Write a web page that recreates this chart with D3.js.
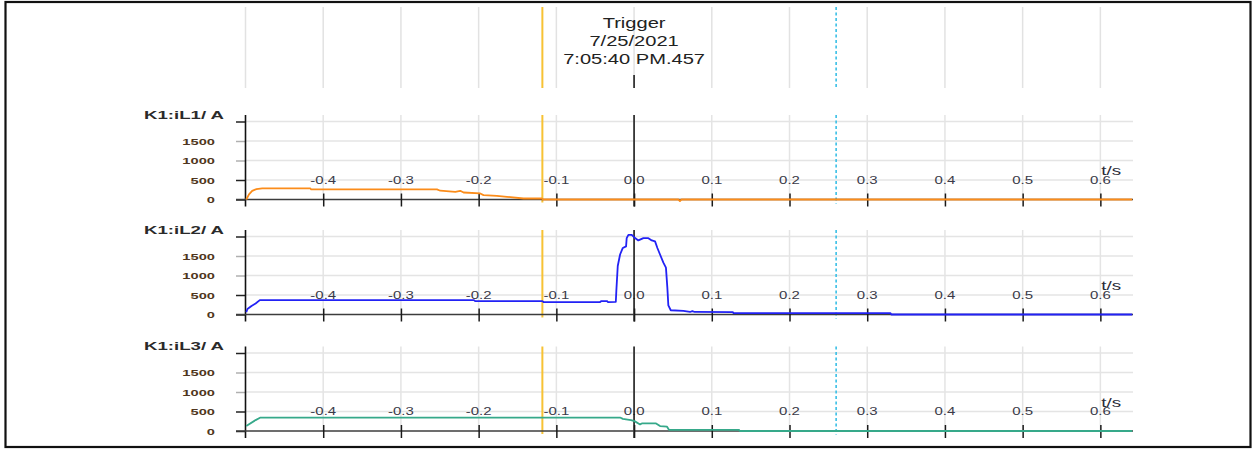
<!DOCTYPE html>
<html>
<head>
<meta charset="utf-8">
<script src="https://cdn.jsdelivr.net/npm/d3@7"></script>
<style>
  html, body { margin: 0; padding: 0; background: #fff; }
  svg { display: block; }
</style>
</head>
<body>
<svg id="chart" width="1254" height="449"></svg>
<script>
// ---- data -------------------------------------------------------------
const xTicks = [-0.4, -0.3, -0.2, -0.1, 0, 0.1, 0.2, 0.3, 0.4, 0.5, 0.6];
const xTickLabels = ["-0.4", "-0.3", "-0.2", "-0.1", "0.0", "0.1", "0.2", "0.3", "0.4", "0.5", "0.6"];
const yTicks = [0, 500, 1000, 1500, 2000];
const yTickLabels = ["0", "500", "1000", "1500", ""];
const channelNames = ["K1:iL1/ A", "K1:iL2/ A", "K1:iL3/ A"];
const triggerText = ["Trigger", "7/25/2021", "7:05:40 PM.457"];
const timeUnit = "t/s";
const triggerTime = 0;
const cursorA = -0.118;   // solid yellow cursor
const cursorB = 0.26;     // dotted cyan cursor
const timeRange = [-0.5, 0.642];
const currentRange = [0, 2000];

// phase L1 current (A) over time (s)
const tL1 = [-0.499, -0.4955, -0.4914, -0.486, -0.4785, -0.4165, -0.4155, -0.2536, -0.2494,
             -0.230, -0.2237, -0.2194, -0.198, -0.1937, -0.1765, -0.1636, -0.1423, -0.1186,
             -0.1175, 0.057, 0.059, 0.061, 0.641];
const iL1 = [0, 130, 222, 265, 283, 283, 258, 258, 225,
             197, 223, 180, 155, 112, 94, 69, 26, 26,
             0, 0, -40, 0, 0];

// phase L2 current (A)
const tL2 = [-0.499, -0.4975, -0.4923, -0.487, -0.4816, -0.206, -0.2045, -0.118, -0.1165,
             -0.0437, -0.042, -0.035, -0.0335, -0.0235, -0.0228, -0.021, -0.018, -0.0145,
             -0.0103, -0.0095, -0.0073, -0.003, 0, 0.0055, 0.012, 0.0184, 0.0228, 0.027,
             0.030, 0.0334, 0.0377, 0.041, 0.0428, 0.0441, 0.0472, 0.0634, 0.072, 0.075,
             0.078, 0.127, 0.128, 0.33, 0.331, 0.641];
const iL2 = [60, 140, 220, 283, 368, 368, 343, 343, 319,
             319, 345, 345, 319, 325, 613, 1244, 1538, 1706,
             1748, 1958, 2042, 2042, 1983, 1899, 1958, 1958, 1899, 1874,
             1706, 1538, 1328, 1202, 697, 235, 109, 92, 65, 88,
             65, 62, 35, 35, 0, 0];

// phase L3 current (A)
const tL3 = [-0.499, -0.487, -0.4807, -0.018, -0.0145, -0.004, 0.0006, 0.0077, 0.010,
             0.0283, 0.0334, 0.0424, 0.0449, 0.135, 0.136, 0.641];
const iL3 = [128, 280, 345, 345, 312, 280, 253, 169, 194,
             194, 127, 110, 30, 30, 0, 0];

const seriesList = [
  { name: channelNames[0], t: tL1, v: iL1, color: "#fb8c1a" },
  { name: channelNames[1], t: tL2, v: iL2, color: "#2222f5" },
  { name: channelNames[2], t: tL3, v: iL3, color: "#36a98a" }
];

// ---- layout -----------------------------------------------------------
const panelZero = [199.5, 314.5, 431];
const panelHeight = 78;          // pixels for 0..2000 A
const panelTopPad = 84.5;        // axis top above the zero line
const headerTop = 7, headerBottom = 88;
const font = "'Liberation Sans', Arial, sans-serif";

const svg = d3.select("#chart");
const x = d3.scaleLinear().domain(timeRange).range([245.5, 1133]);

// horizontally stretched text helper
function sText(g, px, py, str, opts) {
  return g.append("text")
    .attr("transform", `translate(${px},${py}) scale(${opts.sx || 1},1)`)
    .attr("font-family", font)
    .attr("font-size", opts.size)
    .attr("font-weight", opts.weight || "normal")
    .attr("fill", opts.color || "#333")
    .attr("text-anchor", opts.anchor || "start")
    .text(str);
}

// frame
svg.append("rect")
  .attr("x", 5.5).attr("y", 2).attr("width", 1245).attr("height", 445)
  .attr("fill", "none").attr("stroke", "#111").attr("stroke-width", 2.2);

// ---- header band ------------------------------------------------------
const header = svg.append("g");
header.selectAll("line.hgrid")
  .data([timeRange[0]].concat(xTicks))
  .join("line")
  .attr("x1", d => x(d)).attr("x2", d => x(d))
  .attr("y1", headerTop).attr("y2", headerBottom)
  .attr("stroke", "#e2e2e2").attr("stroke-width", 1.5);

header.append("line")
  .attr("x1", x(cursorA)).attr("x2", x(cursorA))
  .attr("y1", headerTop).attr("y2", headerBottom)
  .attr("stroke", "#f7c234").attr("stroke-width", 2);
header.append("line")
  .attr("x1", x(cursorB)).attr("x2", x(cursorB))
  .attr("y1", headerTop).attr("y2", headerBottom)
  .attr("stroke", "#39bfe6").attr("stroke-width", 1.6).attr("stroke-dasharray", "3,2.5");

triggerText.forEach((s, i) => {
  sText(header, x(triggerTime), 28 + i * 18, s, { size: 15, sx: 1.34, anchor: "middle", color: "#222" });
});
header.append("line")
  .attr("x1", x(triggerTime)).attr("x2", x(triggerTime))
  .attr("y1", 75).attr("y2", headerBottom)
  .attr("stroke", "#111").attr("stroke-width", 1.5);

// ---- panels -----------------------------------------------------------
seriesList.forEach((s, k) => {
  const zero = panelZero[k];
  const top = zero - panelTopPad;
  const y = d3.scaleLinear().domain(currentRange).range([zero, zero - panelHeight]);
  const g = svg.append("g");

  // horizontal grid
  g.selectAll("line.gy")
    .data(yTicks.filter(d => d > 0))
    .join("line")
    .attr("x1", x(timeRange[0])).attr("x2", x(timeRange[1]))
    .attr("y1", d => y(d)).attr("y2", d => y(d))
    .attr("stroke", "#e4e4e4").attr("stroke-width", 1.5);

  // vertical grid
  g.selectAll("line.gx")
    .data(xTicks)
    .join("line")
    .attr("x1", d => x(d)).attr("x2", d => x(d))
    .attr("y1", top).attr("y2", zero)
    .attr("stroke", "#e4e4e4").attr("stroke-width", 1.5);

  // y ticks (left of axis)
  const yAxis = d3.axisLeft(y).tickValues(yTicks).tickSize(9.5).tickFormat("");
  const ya = g.append("g").attr("transform", `translate(${x(timeRange[0])},0)`).call(yAxis);
  ya.select(".domain").remove();
  ya.selectAll(".tick line")
    .attr("stroke", d => (d === 1000 || d === 1500) ? "#b0b0b0" : "#222")
    .attr("stroke-width", 1.5);

  // y tick labels
  yTicks.forEach((d, i) => {
    if (!yTickLabels[i]) return;
    sText(g, 215, y(d) + 3.6, yTickLabels[i], { size: 9.8, sx: 1.5, anchor: "end", weight: "bold", color: "#503620" });
  });

  // x tick labels, sitting inside the plot above the zero line
  xTicks.forEach((d, i) => {
    sText(g, x(d), zero - 16, xTickLabels[i], { size: 10, sx: 1.5, anchor: "middle", color: "#3a3a48" });
  });
  sText(g, x(0.6) + 1, zero - 24.5, timeUnit, { size: 13, sx: 1.45, anchor: "start", color: "#2a2a38" });

  // channel name
  sText(g, 224, zero - 81, s.name, { size: 11.5, sx: 1.62, anchor: "end", weight: "bold", color: "#2a2a2a" });

  // cursors
  g.append("line")
    .attr("x1", x(cursorA)).attr("x2", x(cursorA))
    .attr("y1", top).attr("y2", zero + 3)
    .attr("stroke", "#f7c234").attr("stroke-width", 2);
  g.append("line")
    .attr("x1", x(cursorB)).attr("x2", x(cursorB))
    .attr("y1", top).attr("y2", zero + 4)
    .attr("stroke", "#39bfe6").attr("stroke-width", 1.6).attr("stroke-dasharray", "3,2.5");

  // trigger line
  g.append("line")
    .attr("x1", x(triggerTime)).attr("x2", x(triggerTime))
    .attr("y1", top).attr("y2", zero + 7)
    .attr("stroke", "#111").attr("stroke-width", 1.5);

  // y axis line
  g.append("line")
    .attr("x1", x(timeRange[0])).attr("x2", x(timeRange[0]))
    .attr("y1", top).attr("y2", zero + 7)
    .attr("stroke", "#111").attr("stroke-width", 1.6);

  // x axis (zero line) with crossing ticks
  g.append("line")
    .attr("x1", x(timeRange[0]) - 9.5).attr("x2", x(timeRange[1]))
    .attr("y1", zero).attr("y2", zero)
    .attr("stroke", "#3c3c3c").attr("stroke-width", 1.4);
  const xAxis = d3.axisBottom(x).tickValues(xTicks).tickSize(13).tickFormat("");
  const xa = g.append("g").attr("transform", `translate(0,${zero - 6})`).call(xAxis);
  xa.select(".domain").remove();
  xa.selectAll(".tick line").attr("stroke", "#1a1a1a").attr("stroke-width", 1.5);

  // signal trace
  const pts = s.t.map((t, i) => [t, s.v[i]]);
  const line = d3.line().x(d => x(d[0])).y(d => y(d[1]));
  g.append("path")
    .attr("d", line(pts))
    .attr("fill", "none")
    .attr("stroke", s.color)
    .attr("stroke-width", 1.8)
    .attr("stroke-linejoin", "round");
});
</script>
</body>
</html>
